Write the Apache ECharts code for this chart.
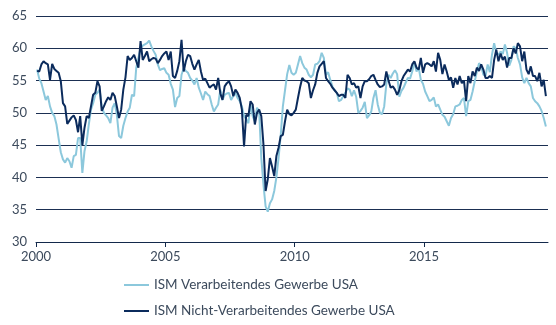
<!DOCTYPE html>
<html>
<head>
<meta charset="utf-8">
<script src="https://cdn.jsdelivr.net/npm/echarts@6/dist/echarts.min.js"></script>
<style>
  html, body { margin: 0; padding: 0; background: #ffffff; }
  #chart { width: 556px; height: 325px; }
</style>
</head>
<body>
<div id="chart"></div>
<script>
// ISM Einkaufsmanagerindizes USA, monatlich ab Januar 2000
const startYear = 2000;
const yearTicks = [2000, 2005, 2010, 2015];
const seriesNames = ['ISM Verarbeitendes Gewerbe USA', 'ISM Nicht-Verarbeitendes Gewerbe USA'];

const manufacturing = [
  // 2000
  56.7, 55.3, 54.6, 53.3, 52.0, 52.6, 51.0, 50.0, 49.5, 48.2, 46.0, 43.9,
  // 2001
  42.8, 42.3, 43.0, 42.5, 41.5, 43.3, 43.5, 46.1, 46.1, 40.7, 44.1, 45.6,
  // 2002
  48.2, 50.5, 51.5, 52.8, 53.1, 53.6, 51.0, 50.0, 49.6, 49.2, 48.4, 50.8,
  // 2003
  51.5, 49.7, 46.4, 46.1, 48.0, 49.2, 50.2, 50.8, 52.8, 52.6, 57.0, 58.5,
  // 2004
  60.0, 60.4, 60.6, 60.8, 61.2, 60.3, 59.6, 59.0, 57.5, 56.6, 56.8, 56.9,
  // 2005
  56.2, 55.9, 54.5, 53.6, 50.9, 52.3, 52.6, 55.9, 56.9, 56.5, 56.2, 55.4,
  // 2006
  55.0, 54.4, 55.4, 53.9, 53.0, 52.0, 53.3, 52.9, 52.6, 51.3, 50.2, 50.8,
  // 2007
  51.3, 53.6, 52.0, 52.8, 53.0, 53.1, 52.0, 52.6, 53.1, 52.3, 51.8, 51.0,
  // 2008
  49.5, 49.0, 48.4, 51.3, 49.5, 48.7, 50.8, 50.3, 43.0, 38.9, 35.5, 34.7,
  // 2009
  36.0, 36.6, 37.9, 40.0, 43.0, 46.5, 51.0, 53.5, 56.0, 57.4, 56.2, 55.9,
  // 2010
  56.2, 57.5, 58.8, 57.7, 57.0, 56.7, 55.9, 55.5, 55.9, 57.5, 57.6, 58.0,
  // 2011
  59.3, 58.5, 55.9, 56.3, 55.1, 54.1, 53.5, 53.1, 51.8, 52.0, 52.6, 53.1,
  // 2012
  53.8, 53.6, 52.6, 53.5, 52.5, 50.0, 50.3, 50.8, 51.7, 49.2, 49.6, 50.2,
  // 2013
  52.3, 53.5, 51.3, 50.0, 49.8, 51.0, 54.5, 55.9, 55.4, 56.1, 56.6, 56.0,
  // 2014
  52.5, 53.4, 53.9, 54.7, 55.4, 55.3, 56.4, 57.9, 56.4, 57.0, 55.1, 54.5,
  // 2015
  53.3, 52.6, 51.8, 52.0, 52.4, 51.0, 51.3, 50.5, 49.7, 49.4, 48.7, 48.0,
  // 2016
  49.2, 49.8, 51.0, 51.1, 51.3, 52.0, 52.3, 49.5, 51.8, 52.0, 53.3, 54.9,
  // 2017
  56.4, 57.7, 57.2, 55.9, 55.7, 57.5, 56.3, 59.0, 60.8, 59.3, 59.0, 59.5,
  // 2018
  59.1, 60.6, 59.3, 57.3, 58.2, 60.3, 60.0, 58.5, 57.5, 55.5, 54.6, 55.4,
  // 2019
  54.6, 54.1, 52.3, 51.8, 51.5, 51.0, 50.3, 49.2, 47.9
];

const nonManufacturing = [
  // 2000
  56.5, 56.4, 57.5, 58.0, 57.7, 57.5, 55.1, 57.6, 56.8, 56.5, 56.2, 54.9,
  // 2001
  51.5, 51.0, 48.3, 48.8, 49.3, 49.6, 48.9, 47.0, 49.5, 45.0, 47.7, 49.5,
  // 2002
  49.2, 51.0, 52.8, 53.1, 54.9, 54.1, 50.3, 51.0, 51.8, 52.4, 52.0, 53.1,
  // 2003
  52.6, 51.0, 49.2, 50.5, 53.6, 55.5, 58.8, 58.2, 58.5, 59.0, 58.0, 57.0,
  // 2004
  61.1, 58.2, 58.8, 59.5, 58.0, 58.3, 58.5, 58.4, 57.7, 58.2, 58.8, 59.2,
  // 2005
  59.5, 58.2, 59.5, 55.7, 55.4, 56.5, 58.0, 61.3, 56.4, 58.0, 59.0, 58.8,
  // 2006
  57.6, 56.7, 57.5, 58.2, 56.4, 55.1, 55.3, 54.6, 53.9, 54.2, 54.4, 53.6,
  // 2007
  55.4, 53.0, 52.0, 54.1, 54.6, 54.9, 54.1, 52.6, 53.6, 53.1, 52.3, 50.5,
  // 2008
  44.8, 49.7, 49.5, 51.8, 51.3, 48.2, 50.0, 50.5, 49.5, 45.1, 37.9, 39.7,
  // 2009
  43.0, 41.7, 40.2, 43.3, 44.6, 46.4, 46.6, 48.7, 50.5, 49.8, 49.6, 50.0,
  // 2010
  50.5, 52.3, 54.0, 55.4, 55.0, 54.9, 54.6, 52.3, 53.5, 54.4, 56.2, 57.2,
  // 2011
  57.6, 58.0, 55.4, 54.9, 54.5, 53.9, 53.5, 53.1, 52.6, 52.8, 52.8, 52.3,
  // 2012
  55.9, 55.4, 54.4, 54.6, 53.9, 54.1, 52.3, 54.1, 54.9, 54.9, 55.2, 55.7,
  // 2013
  55.9, 55.1, 54.4, 54.0, 54.1, 54.4, 56.4, 55.0, 53.9, 54.1, 53.6, 52.8,
  // 2014
  53.5, 54.9, 55.7, 56.2, 56.7, 56.4, 57.5, 58.0, 57.0, 56.7, 58.5, 56.2,
  // 2015
  57.5, 57.7, 57.5, 57.2, 58.0, 56.4, 59.3, 58.2, 56.0, 57.5, 56.4, 55.1,
  // 2016
  55.5, 53.9, 55.4, 54.4, 55.7, 54.6, 55.0, 51.8, 55.7, 54.6, 56.4, 55.7,
  // 2017
  57.0, 56.5, 57.5, 56.7, 55.4, 55.4, 55.7, 55.4, 58.2, 59.8, 58.0, 59.2,
  // 2018
  58.2, 58.7, 57.0, 58.5, 58.5, 60.0, 59.2, 60.8, 60.3, 58.0, 59.5, 56.7,
  // 2019
  56.0, 57.2, 55.7, 55.7, 54.9, 56.2, 54.1, 55.1, 52.6
];

// monthly values placed at mid-month on a decimal-year axis
function toPoints(values) {
  return values.map((v, i) => [startYear + (i + 0.5) / 12, v]);
}

const textColor = '#3c4a5c';
const fontFamily = 'Lato, "Open Sans", sans-serif';

// one legend block per series, stacked below the plot
function legendRow(name, top) {
  return {
    left: 119,
    top: top,
    itemWidth: 25,
    itemHeight: 2,
    itemGap: 0,
    icon: 'rect',
    data: [name],
    selectedMode: false,
    textStyle: { color: textColor, fontSize: 13.5, fontFamily: fontFamily, lineHeight: 16 }
  };
}

const chart = echarts.init(document.getElementById('chart'), null, { renderer: 'canvas' });
chart.setOption({
  animation: false,
  backgroundColor: '#ffffff',
  grid: { left: 36, right: 8, top: 16, bottom: 83, containLabel: false },
  legend: [legendRow(seriesNames[0], 272), legendRow(seriesNames[1], 298)],
  xAxis: {
    type: 'value',
    min: 2000,
    max: 2019.79,
    interval: 5,
    axisLine: { show: true, lineStyle: { color: '#13294b', width: 1 } },
    axisTick: { show: true, length: 5, customValues: yearTicks, lineStyle: { color: '#13294b' } },
    axisLabel: {
      customValues: yearTicks,
      color: textColor, fontSize: 13, fontFamily: fontFamily, margin: 8,
      formatter: v => (v % 5 === 0 ? String(v) : '')
    },
    splitLine: { show: false }
  },
  yAxis: {
    type: 'value',
    min: 30,
    max: 65,
    interval: 5,
    axisLine: { show: false },
    axisTick: { show: false },
    axisLabel: { color: textColor, fontSize: 13, fontFamily: fontFamily, margin: 9 },
    splitLine: { show: true, lineStyle: { color: '#1b2f52', width: 1 } }
  },
  series: [
    {
      name: seriesNames[0],
      type: 'line',
      data: toPoints(manufacturing),
      showSymbol: false,
      symbol: 'none',
      lineStyle: { color: '#8cc8dc', width: 2 },
      itemStyle: { color: '#8cc8dc' },
      z: 2
    },
    {
      name: seriesNames[1],
      type: 'line',
      data: toPoints(nonManufacturing),
      showSymbol: false,
      symbol: 'none',
      lineStyle: { color: '#0b2b5c', width: 2 },
      itemStyle: { color: '#0b2b5c' },
      z: 3
    }
  ]
});
</script>
</body>
</html>
